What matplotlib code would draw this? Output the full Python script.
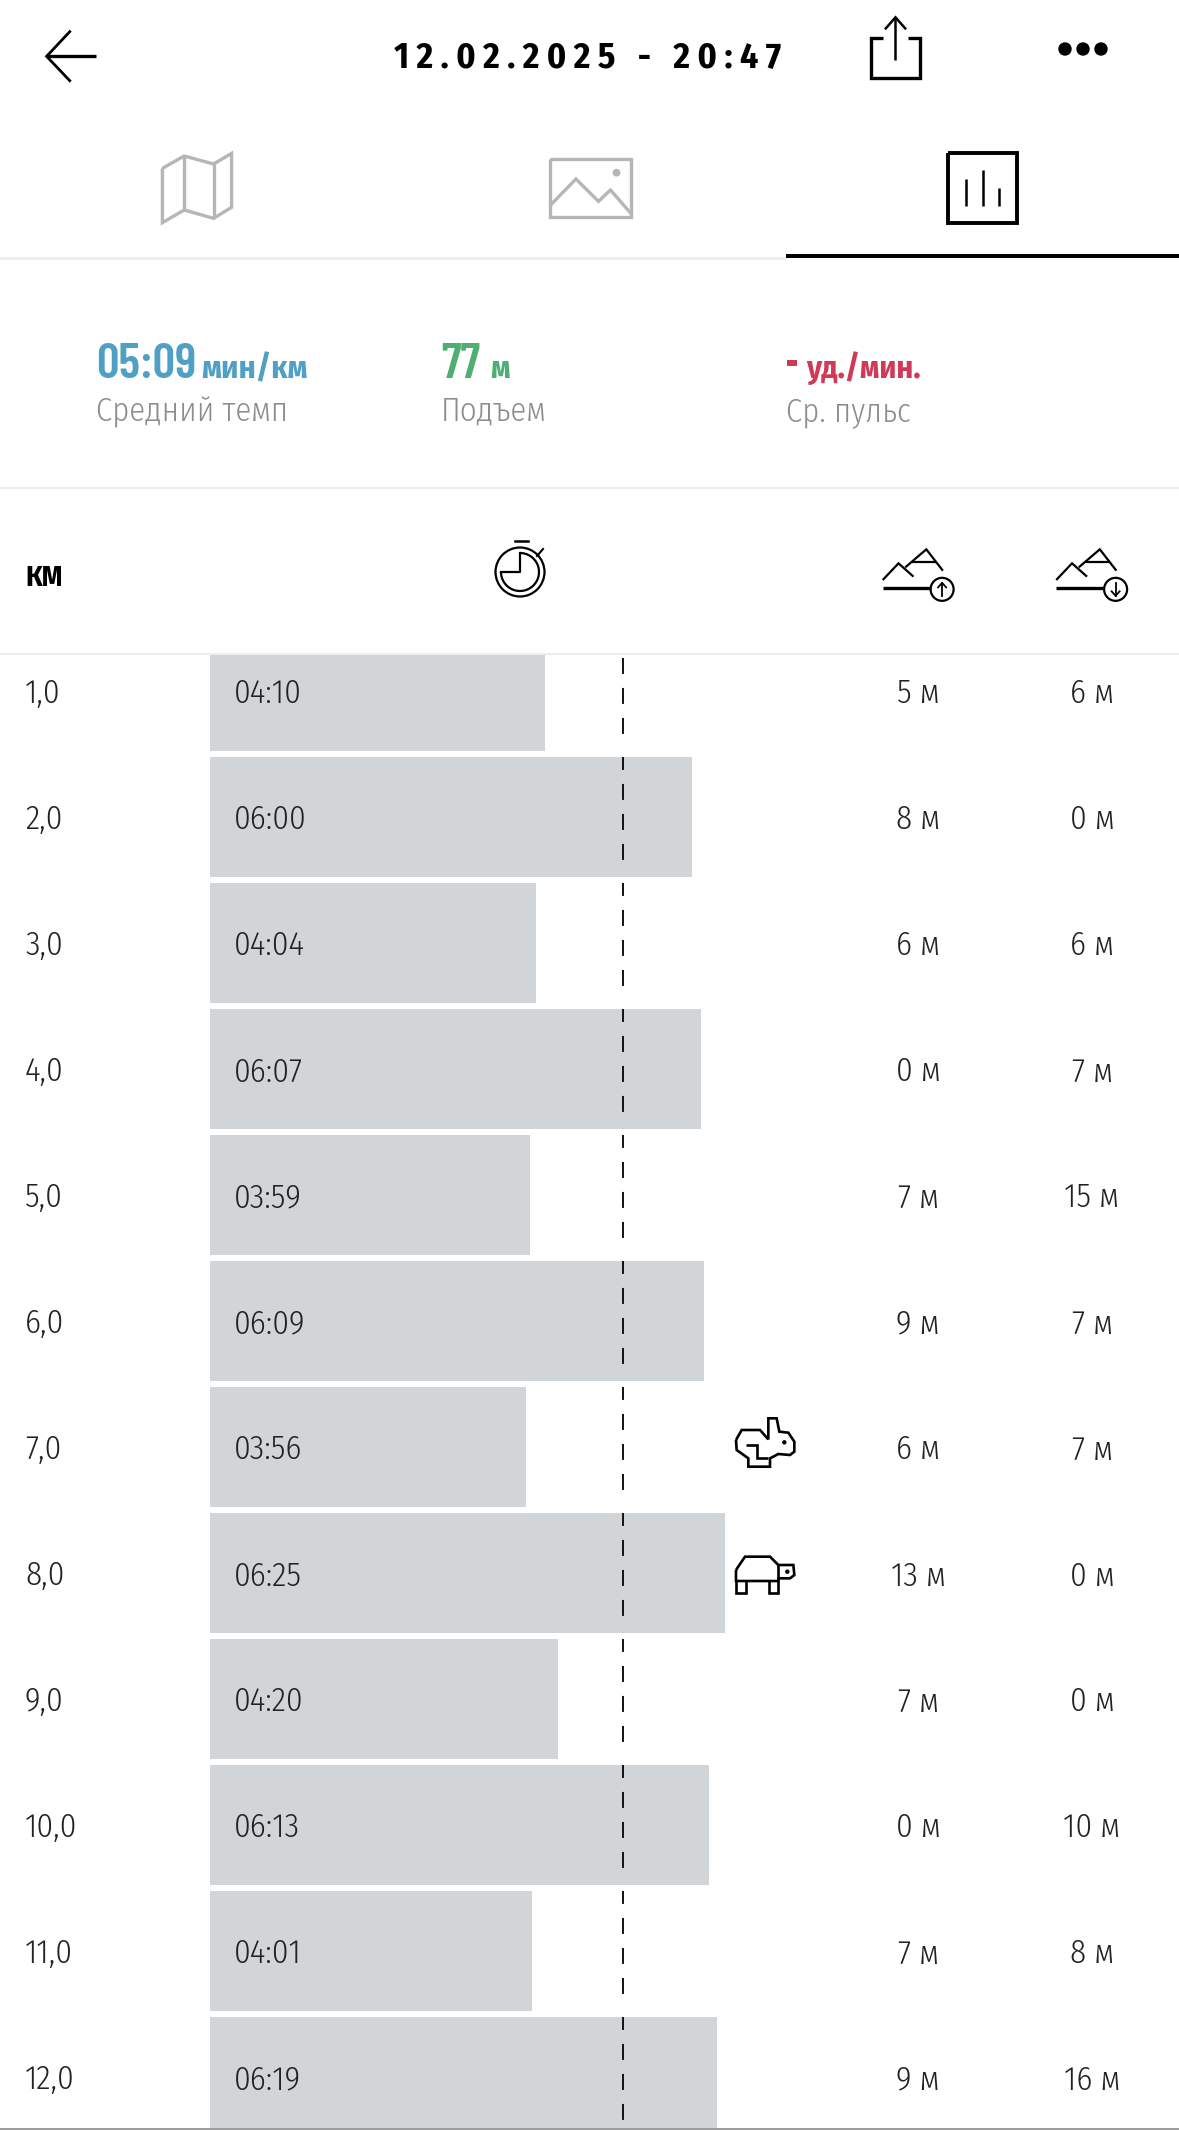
import matplotlib
matplotlib.use("Agg")
import matplotlib.pyplot as plt
from matplotlib.transforms import blended_transform_factory as blend
from matplotlib.patches import Circle, Arc, Rectangle

plt.rcParams["lines.scale_dashes"] = False

km_labels = ["1,0","2,0","3,0","4,0","5,0","6,0","7,0","8,0","9,0","10,0","11,0","12,0"]
pace = ["04:10","06:00","04:04","06:07","03:59","06:09","03:56","06:25","04:20","06:13","04:01","06:19"]
ascent = [5,8,6,0,7,9,6,13,7,0,7,9]
descent = [6,0,6,7,15,7,7,0,0,10,8,16]
avg_pace = "05:09"

def secs(s):
    m, ss = s.split(":")
    return int(m)*60 + int(ss)

W, H = 1179, 2130
fig = plt.figure(figsize=(W/100, H/100), dpi=100, facecolor="white")
px = fig.add_axes([0,0,1,1]); px.set_xlim(0,W); px.set_ylim(H,0); px.axis("off")

L, R, T, B = 210, W, 655, 2128
ROW, ORG = 126, 565
ax = fig.add_axes([L/W, 1-B/H, (R-L)/W, (B-T)/H]); ax.patch.set_alpha(0); ax.axis("off")
ax.set_xlim(0, (R-L)/1.338)
ax.set_ylim((B-ORG)/ROW, (T-ORG)/ROW)
rows = list(range(1, len(pace)+1))
ax.barh(rows, [secs(p) for p in pace], height=120/ROW, color="#d2d5d8", linewidth=0)
for r in rows:
    ax.plot([secs(avg_pace)]*2, [r-60/ROW, r+44/ROW], color="#111111", lw=1.4,
            linestyle=(2.2,(11.5,10.1)), dash_capstyle="butt")
tr = blend(px.transData, ax.transData)
FC = ["Fira Sans Condensed","Roboto","DejaVu Sans"]
FB = ["Barlow Condensed","Fira Sans Condensed","DejaVu Sans"]
num = dict(family=FC, color="#222222", fontsize=23.8, weight=300, va="baseline")
off = 12.5/ROW
for r,k,p,u,d in zip(rows, km_labels, pace, ascent, descent):
    px.text(25, r+off, k, transform=tr, ha="left", **num)
    px.text(234, r+off, p, transform=tr, ha="left", **num)
    px.text(918, r+off, f"{u} м", transform=tr, ha="center", **num)
    px.text(1092, r+off, f"{d} м", transform=tr, ha="center", **num)
ax.set_zorder(1); px.set_zorder(3); px.patch.set_alpha(0)

def zp(pts, dx=0, y0=0):
    return [p[0]/1.33+dx for p in pts], [p[1]/3+y0 for p in pts]
def line(pts, color="black", lw=2, dx=0, y0=0, **kw):
    x,y = zp(pts,dx,y0); px.plot(x,y,color=color,lw=lw,solid_joinstyle="miter",solid_capstyle="butt",**kw)

px.text(587.5, 68, "\u2009".join("12.02.2025 - 20:47"), family=FC, weight="bold", fontsize=25.8, ha="center", va="baseline", color="black")
line([(94,92),(62,169),(94,245)], lw=2.0); line([(62,169),(128,169)], lw=2.4)
line([(1175,113),(1158,113),(1158,235),(1224,235),(1224,113),(1208,113)], lw=2.4)
line([(1191,180),(1191,52)], lw=1.8); line([(1177,88),(1191,52),(1205,88)], lw=1.8)
for x in (1065,1083,1101):
    px.add_patch(Circle((x,49),6,color="black"))
G="#b6b6b6"
line([(216,505),(245,468),(284,492),(308,460),(308,622),(284,655),(245,630),(216,668),(216,505)],color=G,lw=2.4)
line([(245,468),(245,630)],color=G,lw=2.4); line([(284,492),(284,655)],color=G,lw=2.4)
line([(731,476),(839,476),(839,651),(731,651),(731,476)],color=G,lw=2.4)
line([(731,618),(766,537),(796,604),(812,570),(839,640)],color=G,lw=2.4)
px.add_patch(Circle((820/1.33,518/3),3.2,color=G))
line([(1261,459),(1353,459),(1353,668),(1261,668),(1261,459)],lw=2.8)
line([(1285,538),(1285,617)],lw=1.8); line([(1307,510),(1307,617)],lw=1.8); line([(1329,565),(1329,617)],lw=1.8)
px.add_patch(Rectangle((0,256.5),786,3,color="#eeeef0",lw=0))
px.add_patch(Rectangle((786,254),393,3.6,color="black",lw=0))
BL=378
BLUE,GREEN,RED="#4fa0c4","#4fae72","#cf3a56"
px.text(96,BL,"05:09",family=FB,weight=600,fontsize=36,color=BLUE,va="baseline")
px.text(201,BL,"мин/км",family=FC,weight="bold",fontsize=23.4,color=BLUE,va="baseline")
px.text(441,BL,"77",family=FB,weight=600,fontsize=36,color=GREEN,va="baseline")
px.text(490,BL,"м",family=FC,weight="bold",fontsize=23,color=GREEN,va="baseline")
px.add_patch(Rectangle((787,360),10,6,color=RED,lw=0))
px.text(806,BL,"уд./мин.",family=FC,weight="bold",fontsize=23,color=RED,va="baseline")
SUB="#8c8c8c"
for x,s in ((96,"Средний темп"),(441,"Подъем"),(786,"Ср. пульс")):
    px.text(x,421,s,family=FC,weight=300,fontsize=23.6,color=SUB,va="baseline")
for y in (488,654):
    px.plot([0,W],[y,y],color="#eeeeee",lw=1.4)
px.plot([0,W],[2129,2129],color="#9a9a9a",lw=1.4)
px.text(25,586,"КМ",family=FC,weight="bold",fontsize=21,va="baseline",color="black")
px.add_patch(Circle((520,572),24.5,fill=False,ec="black",lw=1.6))
px.add_patch(Arc((520,572),38,38,theta1=-90,theta2=180,ec="black",lw=1.6))
px.plot([501,520,520],[572,572,553],color="black",lw=1.6)
px.plot([515,528],[541,541],color="black",lw=1.8)
px.plot([537,543],[556,549],color="black",lw=1.5)
for dx,arrow in ((0,1),(173.5,-1)):
    y0=480
    line([(1174,300),(1195,250),(1215,290)],dx=dx,y0=y0,lw=1.6)
    line([(1204,262),(1232,208),(1254,272)],dx=dx,y0=y0,lw=1.6)
    line([(1213,245),(1245,245)],dx=dx,y0=y0,lw=1.6)
    line([(1174,325),(1238,325)],dx=dx,y0=y0,lw=2.4)
    cx,cy=1253/1.33+dx,328/3+y0
    px.add_patch(Circle((cx,cy),11.5,fill=False,ec="black",lw=1.6))
    px.plot([cx,cx],[cy-6.5,cy+6.5],color="black",lw=1.3)
    px.plot([cx-4,cx,cx+4],[cy-2*arrow,cy-6.5*arrow,cy-2*arrow],color="black",lw=1.3)
def an(pts,lw=1.9):
    x=[640+p[0]/3 for p in pts]; y=[1380+p[1]/3 for p in pts]
    px.plot(x,y,color="black",lw=lw,solid_joinstyle="miter",solid_capstyle="butt")
an([(288,180),(305,150),(360,150),(385,178),(385,115),(410,115),(418,155),(445,158),(463,185),(463,215),(450,225),(415,222),(390,235),(390,260),(325,260),(325,235),(290,210),(288,180)])
an([(318,195),(350,195),(350,235),(385,235)])
px.add_patch(Circle((640+433/3,1380+187/3),1.5,color="black"))
an([(288,570),(315,530),(390,530),(415,555),(460,555),(463,585),(450,595),(415,595),(415,603),(288,603),(288,570)])
an([(288,603),(288,638),(318,638),(318,603)]); an([(388,603),(388,638),(415,638),(415,603)])
an([(415,555),(415,603)])
px.add_patch(Circle((640+442/3,1380+575/3),1.5,color="black"))
fig.savefig("out.png",dpi=100)
